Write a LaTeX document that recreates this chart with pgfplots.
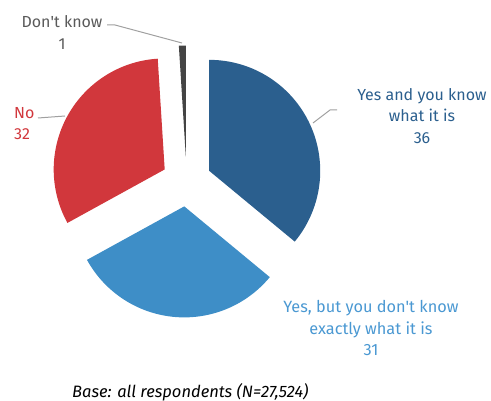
\documentclass[border=0pt]{standalone}
\usepackage{fontspec}
\setmainfont{Fira Sans}
\usepackage{pgfplots}
\pgfplotsset{compat=1.18}
\definecolor{cdark}{HTML}{2B5F8E}
\definecolor{cmid}{HTML}{3E8EC7}
\definecolor{cred}{HTML}{D1373C}
\definecolor{cgray}{HTML}{444444}
\definecolor{tgray}{HTML}{5A5A5A}
\definecolor{tmid}{HTML}{4A98D2}
\definecolor{lgray}{HTML}{A0A0A0}
\def\cx{186.6}
\def\cy{219.5}
\def\rr{111}
\def\dd{25}
% slice from percent #1 to percent #2 (clockwise from top), colour #3
\newcommand{\slice}[3]{%
 \addplot[fill=#3, draw=none, domain=#1:#2, samples=80, variable=\t]
  ({\cx + \dd*sin(1.8*(#1+#2)) + \rr*sin(3.6*\t)},
   {\cy + \dd*cos(1.8*(#1+#2)) + \rr*cos(3.6*\t)})
  -- (axis cs:{\cx + \dd*sin(1.8*(#1+#2))},{\cy + \dd*cos(1.8*(#1+#2))}) -- cycle;
}
\begin{document}
\begin{tikzpicture}
\begin{axis}[width=491bp, height=401bp, scale only axis,
  xmin=0, xmax=491, ymin=0, ymax=401, hide axis, clip=false]
% values: Yes and you know 36, Yes but 31, No 32, Don't know 1
\slice{0}{36}{cdark}
\slice{36}{67}{cmid}
\slice{67}{99}{cred}
\slice{99}{100}{cgray}
% leader lines
\addplot[lgray, line width=1pt] coordinates {(107,376) (115,376) (182,358)};
\addplot[lgray, line width=1pt] coordinates {(38,283) (65,285)};
\addplot[lgray, line width=1pt] coordinates {(313,278) (330,291) (337,291)};
% labels
\node[font=\fontsize{16bp}{21.5bp}\selectfont, text=tgray, align=center] at (axis cs:62,368.5) {Don\textquotesingle t know\\1};
\node[font=\fontsize{16bp}{21.5bp}\selectfont, text=cred, align=left, anchor=west, inner sep=0pt] at (axis cs:14,277.5) {No\\32};
\node[font=\fontsize{16bp}{21.5bp}\selectfont, text=cdark, align=center] at (axis cs:422,285) {Yes and you know\\what it is\\36};
\node[font=\fontsize{16.3bp}{21.5bp}\selectfont, text=tmid, align=center] at (axis cs:371,73) {Yes, but you don\textquotesingle t know\\exactly what it is\\31};
\node[font=\fontsize{16.5bp}{19bp}\selectfont\itshape, text=black, anchor=west, inner sep=0pt] at (axis cs:72,9) {Base: all respondents (N=27,524)};
\end{axis}
\pgfresetboundingbox
\path (current axis.south west) rectangle (current axis.north east);
\end{tikzpicture}
\end{document}
